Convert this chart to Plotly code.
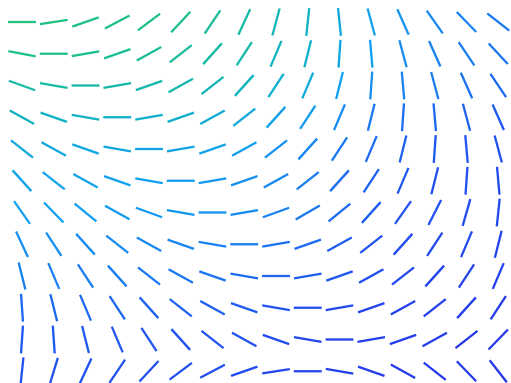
import math
import plotly.graph_objects as go

# Grid of direction glyphs: 16 columns x 12 rows
columns = list(range(16))
rows = list(range(12))

# Orientation of each glyph in degrees (counter-clockwise from east), one list per row
angle_deg = [
    [0, 9, 19, 28, 37, 47, 56, 65, 75, 84, 96, 105, 114, 125, 134, 142],
    [-11, 0, 10, 19, 29, 38, 48, 57, 67, 76, 86, 95, 105, 114, 124, 133],
    [-20, -10, 0, 10, 19, 29, 38, 48, 57, 67, 76, 86, 95, 105, 114, 124],
    [-29, -19, -10, 0, 10, 19, 29, 38, 48, 57, 67, 76, 86, 95, 105, 114],
    [-38, -29, -19, -10, 0, 10, 19, 29, 38, 48, 57, 67, 76, 86, 95, 105],
    [-48, -38, -29, -19, -10, 0, 10, 19, 29, 38, 48, 57, 67, 76, 86, 95],
    [-55, -46, -39, -29, -20, -10, 0, 10, 20, 30, 39, 48, 55, 63, 74, 84],
    [-65, -57, -48, -38, -29, -19, -10, 0, 10, 19, 29, 38, 48, 57, 67, 76],
    [-76, -67, -57, -48, -38, -29, -19, -10, 0, 10, 19, 29, 38, 48, 57, 67],
    [-86, -76, -67, -57, -48, -38, -29, -19, -10, 0, 10, 19, 29, 38, 48, 57],
    [-94, -86, -76, -67, -57, -48, -38, -29, -19, -10, 0, 10, 19, 29, 38, 46],
    [84, 73, 65, 56, 47, 37, 28, 19, 9, 0, -10, -19, -29, -38, -46, -52],
]

# Field strength at each glyph (drives the colour)
strength = [
    [1.00, 1.00, .98, .96, .94, .92, .88, .82, .72, .65, .55, .46, .40, .36, .33, .29],
    [.95, .95, .93, .91, .89, .87, .84, .78, .68, .62, .52, .44, .38, .34, .31, .28],
    [.83, .83, .81, .80, .78, .76, .73, .68, .60, .54, .46, .38, .33, .30, .27, .24],
    [.66, .66, .65, .63, .62, .61, .58, .54, .48, .43, .36, .30, .26, .24, .22, .19],
    [.54, .54, .53, .52, .51, .50, .48, .44, .39, .35, .30, .25, .22, .19, .18, .16],
    [.48, .48, .47, .46, .45, .44, .42, .39, .35, .31, .26, .22, .19, .17, .16, .14],
    [.45, .45, .44, .43, .42, .41, .40, .37, .32, .29, .25, .21, .18, .16, .15, .13],
    [.38, .38, .37, .36, .36, .35, .33, .31, .27, .25, .21, .17, .15, .14, .13, .11],
    [.32, .32, .31, .31, .30, .29, .28, .26, .23, .21, .18, .15, .13, .12, .11, .09],
    [.24, .24, .24, .23, .23, .22, .21, .20, .17, .16, .13, .11, .10, .09, .08, .07],
    [.19, .19, .19, .18, .18, .17, .17, .16, .14, .12, .10, .09, .08, .07, .06, .06],
    [.17, .17, .17, .16, .16, .16, .15, .14, .12, .11, .09, .08, .07, .06, .06, .05],
]

COLORSCALE = [
    (0.00, "#2a2ce8"),
    (0.17, "#2052f0"),
    (0.29, "#1a78f0"),
    (0.45, "#12a0f0"),
    (0.65, "#10b2c4"),
    (1.00, "#1fc282"),
]


def hex_rgb(h):
    h = h.lstrip("#")
    return tuple(int(h[i:i + 2], 16) for i in (0, 2, 4))


def colour_for(v):
    v = max(0.0, min(1.0, v))
    for (p0, c0), (p1, c1) in zip(COLORSCALE[:-1], COLORSCALE[1:]):
        if p0 <= v <= p1:
            t = (v - p0) / (p1 - p0)
            a, b = hex_rgb(c0), hex_rgb(c1)
            r, g, bl = (round(a[i] + (b[i] - a[i]) * t) for i in range(3))
            return f"rgb({r},{g},{bl})"
    return COLORSCALE[-1][1]


HALF = 0.44  # half glyph length in grid units

fig = go.Figure()
for r in rows:
    for c in columns:
        th = math.radians(angle_deg[r][c])
        dx, dy = HALF * math.cos(th), HALF * math.sin(th)
        fig.add_trace(go.Scatter(
            x=[c - dx, c + dx],
            y=[r + dy, r - dy],
            mode="lines",
            line=dict(color=colour_for(strength[r][c]), width=2.3),
            hoverinfo="skip",
            showlegend=False,
        ))

W, H = 511, 383
STEP, OFFSET = 31.75, 22
fig.update_layout(
    width=W,
    height=H,
    margin=dict(l=0, r=0, t=0, b=0),
    paper_bgcolor="white",
    plot_bgcolor="white",
    xaxis=dict(range=[-OFFSET / STEP, (W - OFFSET) / STEP], visible=False, fixedrange=True),
    yaxis=dict(range=[(H - OFFSET) / STEP, -OFFSET / STEP], visible=False, fixedrange=True),
)

fig.write_html("out.html", config={"displayModeBar": False})
